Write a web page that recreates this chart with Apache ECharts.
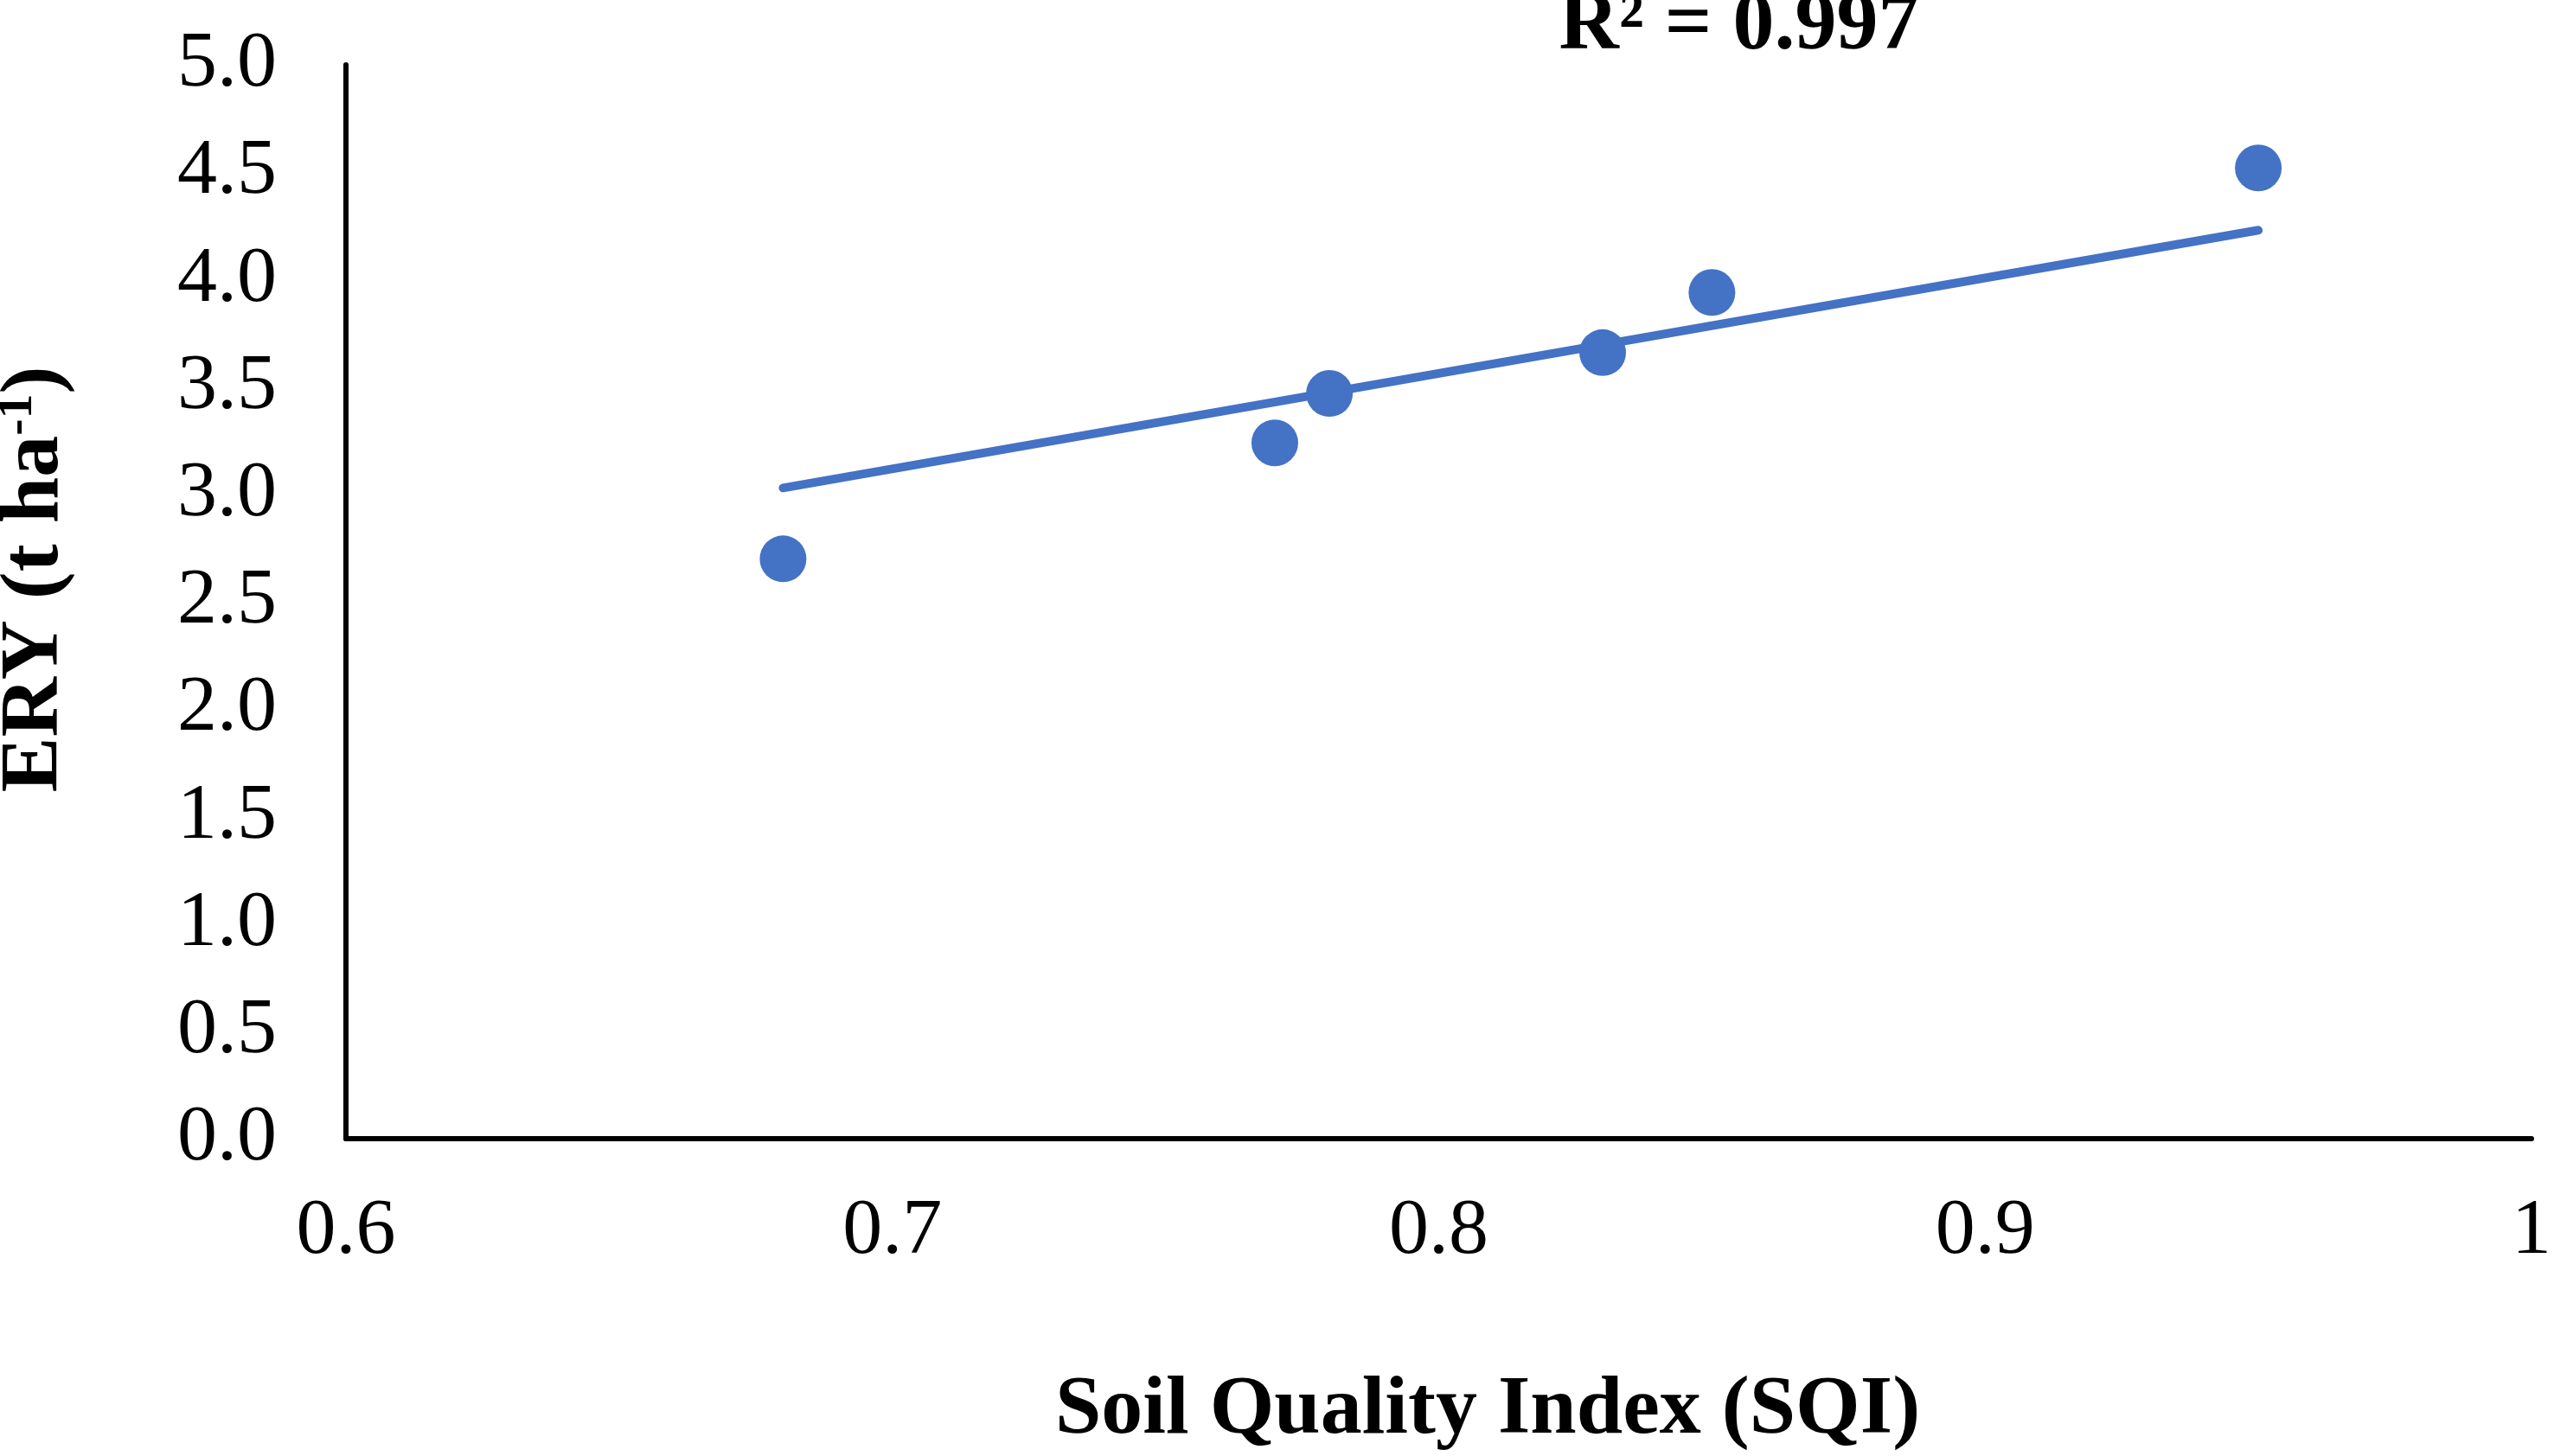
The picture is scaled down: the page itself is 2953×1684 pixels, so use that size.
<!DOCTYPE html>
<html>
<head>
<meta charset="utf-8">
<script src="https://cdn.jsdelivr.net/npm/echarts@6/dist/echarts.min.js"></script>
<style>
html,body{margin:0;padding:0;background:#fff;}
#chart{width:2953px;height:1684px;}
</style>
</head>
<body>
<div id="chart"></div>
<script>
var sqi = [0.68, 0.77, 0.78, 0.83, 0.85, 0.95];
var ery = [2.70, 3.24, 3.47, 3.66, 3.94, 4.52];
var trendX = [0.68, 0.95];
var trendY = [3.03, 4.23];
var xTicks = {min: 0.6, max: 1, interval: 0.1};
var yTicks = {min: 0, max: 5, interval: 0.5};
var r2Text = 'R² = 0.997';
var xTitle = 'Soil Quality Index (SQI)';

var points = sqi.map(function (x, i) { return [x, ery[i]]; });
var trend = trendX.map(function (x, i) { return [x, trendY[i]]; });
var FONT = '"Liberation Serif", "Times New Roman", serif';

var chart = echarts.init(document.getElementById('chart'));
chart.setOption({
  backgroundColor: '#ffffff',
  animation: false,
  grid: {left: 400, right: 15, top: 75, bottom: 367},
  xAxis: {
    type: 'value', min: xTicks.min, max: xTicks.max, interval: xTicks.interval,
    axisLine: {show: true, lineStyle: {color: '#000', width: 6}},
    axisTick: {show: false},
    splitLine: {show: false},
    axisLabel: {fontFamily: FONT, fontSize: 92, color: '#000', margin: 62}
  },
  yAxis: {
    type: 'value', min: yTicks.min, max: yTicks.max, interval: yTicks.interval,
    axisLine: {show: true, lineStyle: {color: '#000', width: 6}},
    axisTick: {show: false},
    splitLine: {show: false},
    axisLabel: {fontFamily: FONT, fontSize: 92, color: '#000', margin: 80,
      formatter: function (v) { return v.toFixed(1); }}
  },
  graphic: [
    {type: 'text', x: 2011, y: 31,
      style: {text: r2Text, fontFamily: FONT, fontSize: 96, fontWeight: 'bold', fill: '#000',
        align: 'center', verticalAlign: 'middle'}},
    {type: 'text', x: 1720, y: 1632,
      style: {text: xTitle, fontFamily: FONT, fontSize: 96, fontWeight: 'bold', fill: '#000',
        align: 'center', verticalAlign: 'middle'}},
    {type: 'text', x: 41, y: 670, rotation: Math.PI / 2,
      style: {text: '{a|ERY (t ha}{b|-1}{a|)}', align: 'center', verticalAlign: 'middle',
        rich: {
          a: {fontFamily: FONT, fontSize: 96, fontWeight: 'bold', fill: '#000', lineHeight: 100},
          b: {fontFamily: FONT, fontSize: 58, fontWeight: 'bold', fill: '#000', lineHeight: 100, padding: [0, 0, 40, 0]}
        }}}
  ],
  series: [
    {type: 'line', data: trend, showSymbol: false, symbol: 'none',
      lineStyle: {color: '#4472C4', width: 10, cap: 'round'}, z: 2},
    {type: 'scatter', data: points, symbolSize: 54,
      itemStyle: {color: '#4472C4', opacity: 1}, z: 3}
  ]
});
</script>
</body>
</html>
